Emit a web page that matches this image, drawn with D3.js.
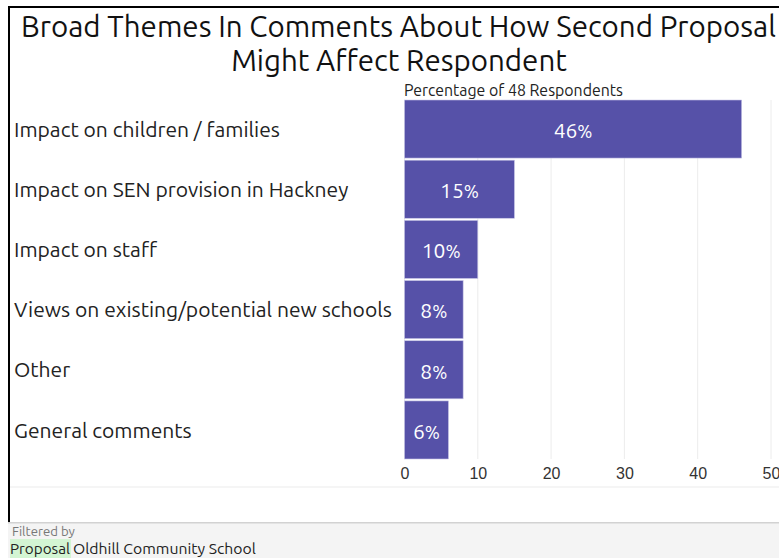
<!DOCTYPE html>
<html>
<head>
<meta charset="utf-8">
<script src="https://cdn.jsdelivr.net/npm/d3@7"></script>
<style>
  html, body { margin: 0; padding: 0; background: #fff; }
  svg { display: block; font-family: "Ubuntu", "Open Sans", sans-serif; }
</style>
</head>
<body>
<svg id="chart" width="779" height="558"></svg>
<script>
// Survey themes, percentage of respondents mentioning each
const categories = [
  "Impact on children / families",
  "Impact on SEN provision in Hackney",
  "Impact on staff",
  "Views on existing/potential new schools",
  "Other",
  "General comments"
];
const percentages = [46, 15, 10, 8, 8, 6];
const tickValues = [0, 10, 20, 30, 40, 50];
const titleLines = ["Broad Themes In Comments About How Second Proposal", "Might Affect Respondent"];
const subtitle = "Percentage of 48 Respondents";
const filterKey = "Proposal";
const filterValue = "Oldhill Community School";

const data = categories.map((c, i) => ({ category: c, value: percentages[i] }));

const svg = d3.select("#chart");
const W = 779, H = 558;

// scale a text's font size so its rendered width hits a target
function fitFont(sel, target, base) {
  sel.attr("font-size", base);
  const w = sel.node().getComputedTextLength();
  const s = base * target / w;
  sel.attr("font-size", s);
  return s;
}

// frame: top and left rules
svg.append("rect").attr("x", 8).attr("y", 6).attr("width", W - 8).attr("height", 2).attr("fill", "#000");
svg.append("rect").attr("x", 8).attr("y", 6).attr("width", 2).attr("height", 517).attr("fill", "#000");

// footer panel
svg.append("rect").attr("x", 8).attr("y", 523).attr("width", W - 8).attr("height", H - 523).attr("fill", "#f4f4f4");
svg.append("rect").attr("x", 8).attr("y", 522).attr("width", W - 8).attr("height", 1.5).attr("fill", "#d2d2d2");
svg.append("rect").attr("x", 10).attr("y", 539).attr("width", 61).attr("height", 19).attr("fill", "#d3f5d3");

// title
const t1 = svg.append("text").attr("x", 398.5).attr("y", 37).attr("text-anchor", "middle")
  .attr("fill", "#111").text(titleLines[0]);
const titleSize = fitFont(t1, 755, 30);
svg.append("text").attr("x", 399).attr("y", 71).attr("text-anchor", "middle")
  .attr("fill", "#111").attr("font-size", titleSize).text(titleLines[1]);

// scales
const x = d3.scaleLinear().domain([0, 50]).range([404.5, 771]);
const y = d3.scaleBand().domain(categories).range([100, 459]).paddingInner(0.035).paddingOuter(0.0);

// gridlines
svg.append("g").selectAll("line").data(tickValues).join("line")
  .attr("x1", d => x(d)).attr("x2", d => x(d))
  .attr("y1", 100).attr("y2", 459)
  .attr("stroke", "#ececec").attr("stroke-width", 1);

// subtitle above the bars
const st = svg.append("text").attr("x", 404).attr("y", 96).attr("fill", "#222").text(subtitle);
fitFont(st, 219, 14);

// bars
svg.append("g").selectAll("rect").data(data).join("rect")
  .attr("x", x(0))
  .attr("y", d => y(d.category))
  .attr("width", d => x(d.value) - x(0))
  .attr("height", y.bandwidth())
  .attr("fill", "#5651a8")
  .attr("stroke", "#c9c7e6").attr("stroke-width", 0.6);

// value labels inside the bars
const vl = svg.append("g").selectAll("text").data(data).join("text")
  .attr("x", d => (x(0) + x(d.value)) / 2)
  .attr("y", d => y(d.category) + y.bandwidth() / 2)
  .attr("dy", "0.42em")
  .attr("text-anchor", "middle")
  .attr("fill", "#fff")
  .attr("font-size", 21);
vl.append("tspan").text(d => d3.format("d")(d.value));
vl.append("tspan").attr("font-size", 18).text("%");

// category labels
const cl = svg.append("g").selectAll("text").data(data).join("text")
  .attr("x", 14)
  .attr("y", d => y(d.category) + y.bandwidth() / 2)
  .attr("dy", "0.36em")
  .attr("fill", "#222")
  .text(d => d.category);
const catSize = fitFont(d3.select(cl.nodes()[3]), 378, 19);
cl.attr("font-size", catSize);

// x axis
const axis = svg.append("g").attr("transform", "translate(0,459)")
  .call(d3.axisBottom(x).tickValues(tickValues).tickSize(0).tickPadding(5).tickFormat(d3.format("d")));
axis.select(".domain").remove();
axis.selectAll("text").attr("font-size", 16).attr("fill", "#333").attr("font-family", null).attr("dy", "0.95em");

// baseline rule under the axis
svg.append("rect").attr("x", 10).attr("y", 486.5).attr("width", W - 10).attr("height", 1).attr("fill", "#ececec");

// footer text
const fb = svg.append("text").attr("x", 12).attr("y", 536).attr("fill", "#777").text("Filtered by");
fitFont(fb, 63, 13);

const fk = svg.append("text").attr("x", 10).attr("y", 554).attr("fill", "#222").text(filterKey);
fitFont(fk, 60, 16);
const fv = svg.append("text").attr("x", 73).attr("y", 554).attr("fill", "#222").text(filterValue);
fitFont(fv, 183, 16);
</script>
</body>
</html>
